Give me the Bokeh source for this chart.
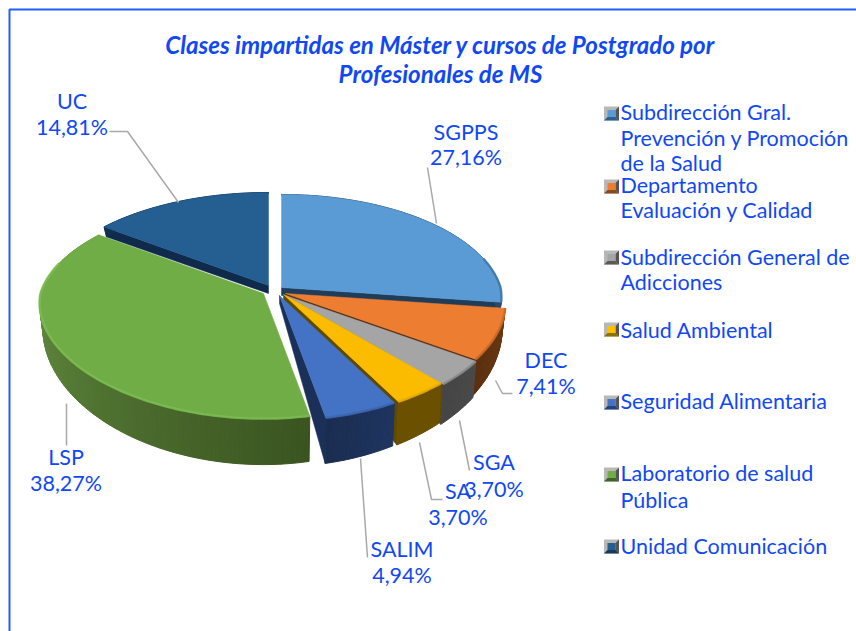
import math
from bokeh.plotting import figure
from bokeh.models import Range1d
from bokeh.core.properties import value
from bokeh.embed import file_html
from bokeh.resources import INLINE

# ---- data ----
codes = ["SGPPS", "DEC", "SGA", "SA", "SALIM", "LSP", "UC"]
shares = [27.16, 7.41, 3.70, 3.70, 4.94, 38.27, 14.81]
legend_lines = [
    ["Subdirección Gral.", "Prevención y Promoción", "de la Salud"],
    ["Departamento", "Evaluación y Calidad"],
    ["Subdirección General de", "Adicciones"],
    ["Salud Ambiental"],
    ["Seguridad Alimentaria"],
    ["Laboratorio de salud", "Pública"],
    ["Unidad Comunicación"],
]
title_lines = ["Clases impartidas en Máster y cursos de Postgrado por", "Profesionales de MS"]

# ---- styles / layout (screen px) ----
top_col = ["#5B9BD5", "#ED7D31", "#A5A5A5", "#FBBC00", "#4472C4", "#70AD47", "#255E91"]
rim_col = ["#3F78A8", "#C96A28", "#8A8A8A", "#E5AE00", "#3D66B0", "#7CBD52", "#2A689F"]
wall_a = ["#2A4A66", "#6B3A14", "#4A4A4A", "#6B5000", "#1E3560", "#3A5420", "#123050"]
wall_b = ["#2A4A66", "#5A2E0E", "#444444", "#6B5000", "#1A2C50", "#70A04A", "#123050"]
cut_col = ["#1F3D58", "#5A2E0E", "#5E4A00", "#5E4A00", "#1B3058", "#3A5420", "#0F2A4A"]
apex = [(281, 287), (285, 293), (285, 295), (283, 294), (279, 295), (263, 293), (268, 285)]
RX_R, RX_L, RY, K, K_FRONT = 219.0, 223.0, 106.7, 0.147, 0.09
BLUE = "#1048F6"
GREY = "#A9A9A9"
label_pos = [
    (465.5, 131.5, 156.5), (545.5, 359.5, 385.5), (493.5, 461.5, 488.5), (457.5, 490.5, 516.5),
    (401.5, 548.5, 574.5), (65.5, 456.5, 482.5), (71.5, 100.5, 126.5),
]
leaders = [
    [(427, 167), (436, 223)],
    [(495, 380), (502, 393), (512, 393)],
    [(459, 420), (469, 470)],
    [(419, 442), (431, 499), (442, 499)],
    [(360, 458), (367, 557)],
    [(66, 403), (66, 445)],
    [(109, 131), (127, 131), (178, 202)],
]
legend_y = [[111, 137, 162], [184, 209], [256, 281], [329], [400], [472, 499], [545]]
key_y = [113, 186, 257, 329, 402, 474, 546]
key_dark = ["#2F5F8C", "#8A4A1E", "#5A5A5A", "#8F7000", "#25427A", "#3F6428", "#153A5C"]
key_main = ["#5B9BD5", "#ED7D31", "#A5A5A5", "#FFC000", "#4472C4", "#70AD47", "#255E91"]
LABEL_SIZE = value("21.5px")

p = figure(width=856, height=631, x_range=Range1d(0, 856), y_range=Range1d(631, 0),
           output_backend="svg", toolbar_location=None, min_border=0, outline_line_color=None)
p.axis.visible = False
p.grid.visible = False
p.xaxis.visible = False
p.yaxis.visible = False
p.background_fill_color = "white"


def lerp_hex(a, b, t):
    ca = [int(a[i:i + 2], 16) for i in (1, 3, 5)]
    cb = [int(b[i:i + 2], 16) for i in (1, 3, 5)]
    return "#%02x%02x%02x" % tuple(round(x + (y - x) * t) for x, y in zip(ca, cb))


def top_pt(c, th, r=1.0):
    X, Y = r * math.sin(th), r * math.cos(th)
    s = 1 / (1 + K * Y)
    sx = 1 / (1 + (K if Y > 0 else K_FRONT) * Y)
    rx = RX_R if X > 0 else RX_L
    return c[0] + rx * X * sx, c[1] - RY * Y * s


def bot_pt(c, th, r=1.0):
    x, y = top_pt(c, th, r)
    Y = r * math.cos(th)
    return c[0] + (x - c[0]) * 0.985, y + 8 + r * 15.5 - 22.5 * Y


total = sum(shares)
edges = [0.0]
for v in shares:
    edges.append(edges[-1] + v / total * 2 * math.pi)

# frame: left and top rule only
p.line([9, 9, 856], [631, 9, 9], line_color="#1F5CFF", line_width=2)

# draw order, back to front
for i in [6, 0, 1, 2, 3, 5, 4]:
    a0, a1 = edges[i], edges[i + 1]
    c = apex[i]
    n = max(4, int((a1 - a0) / 0.02))
    ths = [a0 + (a1 - a0) * j / n for j in range(n + 1)]
    cut_th = a1 if a1 <= math.pi + 1e-6 else (a0 if a0 >= math.pi else None)
    if cut_th is not None:
        t = top_pt(c, cut_th)
        b = bot_pt(c, cut_th)
        b0 = bot_pt(c, cut_th, 0.0)
        p.patch([c[0], t[0], b[0], b0[0]], [c[1], t[1], b[1], b0[1]],
                fill_color=cut_col[i], line_color=cut_col[i], line_width=0.5)
    tops = [top_pt(c, th) for th in ths]
    bots = [bot_pt(c, th) for th in ths]
    xs, ys, cols = [], [], []
    for j in range(n):
        xs.append([tops[j][0], tops[j + 1][0], bots[j + 1][0], bots[j][0]])
        ys.append([tops[j][1], tops[j + 1][1], bots[j + 1][1], bots[j][1]])
        cols.append(lerp_hex(wall_a[i], wall_b[i], j / n))
    p.patches(xs, ys, fill_color=cols, line_color=cols, line_width=1)
    p.patch([c[0]] + [q[0] for q in tops], [c[1]] + [q[1] for q in tops],
            fill_color=top_col[i], line_color=top_col[i], line_width=0.5)
    rim = [q for q, th in zip(tops, ths) if math.cos(th) < 0.3]
    if rim:
        p.line([q[0] for q in rim], [q[1] for q in rim], line_color=rim_col[i],
               line_width=2.5, line_alpha=0.85)

# leader lines and data labels
for seg in leaders:
    p.line([q[0] for q in seg], [q[1] for q in seg], line_color=GREY, line_width=1.5)

for code, v, pos in zip(codes, shares, label_pos):
    pct = f"{v:.2f}".replace(".", ",") + "%"
    p.text([pos[0]], [pos[1]], text=[code], text_font=value("Lato"), text_font_size=LABEL_SIZE,
           text_color=BLUE, text_align="center", text_baseline="middle")
    p.text([pos[0]], [pos[2]], text=[pct], text_font=value("Lato"), text_font_size=LABEL_SIZE,
           text_color=BLUE, text_align="center", text_baseline="middle")

# title
for line, y in zip(title_lines, [43.5, 72.5]):
    p.text([440], [y], text=[line], text_font=value("Lato"), text_font_size=value("24.1px"),
           text_font_style="bold italic", text_color=BLUE, text_align="center", text_baseline="middle")

# legend
KX0, KX1, KH, KB = 603.5, 618.5, 7, 3.5
for lines, ys, ky, dark, main in zip(legend_lines, legend_y, key_y, key_dark, key_main):
    p.patch([KX0, KX1, KX1, KX0], [ky - KH, ky - KH, ky + KH, ky + KH], fill_color="#B8B8B8", line_color=None)
    p.patch([KX1, KX1, KX1 - KB, KX1 - KB], [ky - KH, ky + KH, ky + KH - KB, ky - KH + KB], fill_color="#555555", line_color=None)
    p.patch([KX0, KX1, KX1 - KB, KX0 + KB], [ky + KH, ky + KH, ky + KH - KB, ky + KH - KB], fill_color=dark, line_color=None)
    p.patch([KX0 + KB, KX1 - KB, KX1 - KB, KX0 + KB], [ky - KH + KB, ky - KH + KB, ky + KH - KB, ky + KH - KB], fill_color=main, line_color=None)
    for line, y in zip(lines, ys):
        p.text([620], [y], text=[line], text_font=value("Lato"), text_font_size=LABEL_SIZE,
               text_color=BLUE, text_align="left", text_baseline="middle")

open("out.html", "w").write(file_html(p, INLINE))
